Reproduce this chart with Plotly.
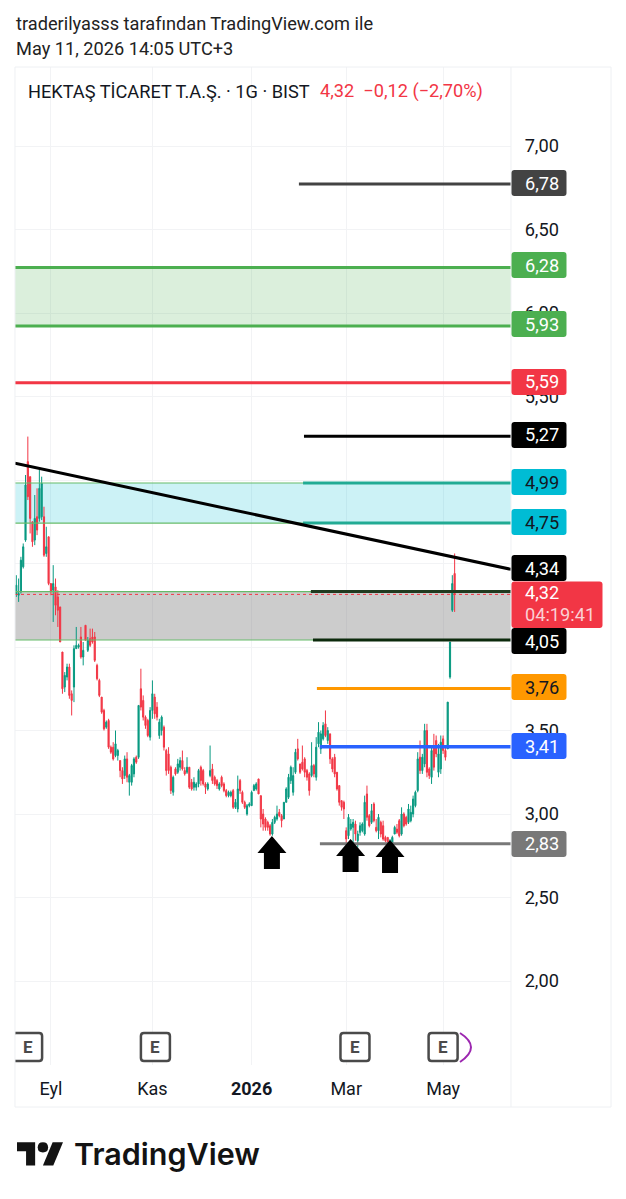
import plotly.graph_objects as go

W, H = 626, 1199
# ---- data ----
opens = [4.32,4.31,4.33,4.48,4.64,5.11,5.02,4.75,4.64,4.78,4.77,4.78,4.78,4.56,4.66,4.38,4.34,4.36,4.30,4.24,
3.97,3.76,3.82,3.88,3.72,3.76,3.99,4.00,4.06,3.94,4.13,3.98,4.05,4.06,4.06,3.89,3.80,3.70,3.62,3.52,
3.56,3.40,3.40,3.35,3.35,3.32,3.26,3.23,3.33,3.19,3.19,3.24,3.34,3.34,3.75,3.68,3.58,3.56,3.46,3.62,
3.70,3.64,3.47,3.50,3.52,3.38,3.36,3.28,3.13,3.27,3.25,3.28,3.32,3.26,3.25,3.28,3.19,3.16,3.16,3.18,
3.28,3.26,3.18,3.15,3.23,3.27,3.22,3.20,3.15,3.22,3.18,3.14,3.11,3.11,3.14,3.04,3.03,3.20,3.13,3.07,
3.00,3.05,3.05,3.14,3.15,3.21,3.11,3.00,2.97,2.95,2.93,2.88,2.95,2.97,3.01,2.99,2.97,3.07,3.10,3.20,
3.13,3.25,3.39,3.30,3.31,3.33,3.26,3.24,3.23,3.29,3.22,3.42,3.39,3.45,3.54,3.44,3.48,3.33,3.34,3.25,
3.17,3.08,3.07,2.90,2.87,2.91,2.92,2.94,2.84,2.89,2.90,2.88,3.12,2.99,2.95,3.06,2.92,2.90,2.95,2.93,
2.86,2.86,2.79,2.82,2.88,2.91,2.96,2.88,3.00,2.98,2.95,2.96,3.00,3.05,3.14,3.34,3.26,3.30,3.50,3.27,
3.22,3.40,3.44,3.25,3.27,3.45,3.38,3.39,3.82,4.22,4.44]
highs = [4.43,4.41,4.54,4.62,5.03,5.26,5.02,4.75,4.91,4.95,5.06,5.02,4.84,4.72,4.66,4.38,4.49,4.41,4.34,4.24,
3.97,3.85,3.90,3.90,3.74,4.01,4.12,4.02,4.12,4.03,4.13,4.06,4.11,4.11,4.09,3.90,3.81,3.70,3.63,3.56,
3.57,3.41,3.43,3.50,3.39,3.32,3.28,3.35,3.37,3.24,3.30,3.34,3.35,3.65,3.87,3.71,3.59,3.57,3.64,3.80,
3.72,3.67,3.57,3.59,3.53,3.39,3.40,3.29,3.23,3.28,3.33,3.34,3.38,3.28,3.34,3.28,3.21,3.22,3.19,3.27,
3.29,3.27,3.19,3.19,3.41,3.30,3.23,3.21,3.19,3.23,3.19,3.15,3.14,3.14,3.15,3.09,3.23,3.21,3.14,3.08,
3.06,3.07,3.14,3.18,3.19,3.21,3.11,3.03,2.98,2.96,2.94,2.97,2.99,3.05,3.03,3.00,3.07,3.16,3.24,3.29,
3.28,3.39,3.45,3.30,3.41,3.34,3.27,3.25,3.43,3.30,3.46,3.55,3.50,3.55,3.62,3.52,3.48,3.34,3.36,3.25,
3.17,3.08,3.08,2.92,3.00,2.97,2.97,2.96,2.90,2.95,2.95,3.11,3.17,3.00,3.06,3.07,2.97,3.00,2.96,2.96,
2.87,2.86,2.85,2.87,2.93,2.94,2.97,3.04,3.01,2.99,3.06,3.05,3.11,3.14,3.37,3.44,3.36,3.54,3.54,3.28,
3.40,3.48,3.47,3.42,3.47,3.47,3.40,3.67,4.03,4.43,4.56]
lows = [4.30,4.27,4.32,4.47,4.63,4.88,4.68,4.60,4.61,4.67,4.75,4.76,4.54,4.54,4.37,4.31,4.15,4.19,4.12,4.03,
3.72,3.73,3.80,3.69,3.59,3.67,3.99,3.99,3.93,3.89,4.04,3.97,4.00,4.02,3.91,3.80,3.70,3.60,3.50,3.51,
3.39,3.36,3.32,3.34,3.32,3.22,3.18,3.21,3.19,3.11,3.17,3.22,3.30,3.33,3.62,3.56,3.51,3.46,3.44,3.57,
3.57,3.56,3.45,3.47,3.38,3.23,3.24,3.12,3.11,3.23,3.24,3.26,3.26,3.23,3.24,3.15,3.14,3.14,3.14,3.16,
3.17,3.17,3.12,3.14,3.22,3.18,3.17,3.15,3.14,3.16,3.13,3.10,3.10,3.10,3.03,3.03,3.01,3.12,3.06,3.03,
2.99,3.04,3.05,3.14,3.14,3.12,2.92,2.90,2.90,2.90,2.87,2.87,2.94,2.96,2.98,2.92,2.97,3.07,3.09,3.18,
3.11,3.24,3.32,3.24,3.26,3.22,3.20,3.11,3.22,3.22,3.20,3.40,3.36,3.44,3.46,3.42,3.30,3.25,3.22,3.14,
3.05,3.02,2.97,2.82,2.85,2.90,2.82,2.84,2.80,2.87,2.89,2.87,2.96,2.92,2.94,2.95,2.89,2.85,2.86,2.84,
2.83,2.75,2.78,2.80,2.88,2.88,2.86,2.87,2.92,2.93,2.94,2.95,2.98,3.04,3.13,3.24,3.24,3.28,3.22,3.21,
3.18,3.26,3.34,3.22,3.24,3.36,3.32,3.39,3.81,4.21,4.21]
closes = [4.37,4.32,4.52,4.60,4.97,4.90,4.77,4.63,4.77,4.70,4.95,4.98,4.55,4.60,4.38,4.33,4.38,4.25,4.22,4.03,
3.75,3.83,3.88,3.71,3.68,3.99,4.01,4.01,3.94,3.98,4.04,4.04,4.01,4.03,3.92,3.81,3.71,3.61,3.51,3.55,
3.40,3.37,3.33,3.42,3.38,3.26,3.21,3.33,3.22,3.23,3.29,3.33,3.31,3.65,3.64,3.58,3.53,3.47,3.62,3.72,
3.60,3.58,3.55,3.58,3.40,3.26,3.26,3.14,3.22,3.24,3.30,3.32,3.27,3.24,3.28,3.16,3.15,3.19,3.18,3.26,
3.20,3.18,3.16,3.18,3.26,3.20,3.18,3.17,3.18,3.17,3.14,3.11,3.13,3.13,3.04,3.07,3.15,3.14,3.07,3.04,
3.05,3.06,3.13,3.17,3.18,3.12,2.97,2.94,2.92,2.92,2.88,2.95,2.98,3.00,2.99,2.96,3.07,3.15,3.22,3.28,
3.23,3.37,3.33,3.25,3.27,3.25,3.22,3.14,3.29,3.24,3.40,3.49,3.48,3.53,3.47,3.50,3.33,3.27,3.24,3.15,
3.07,3.04,3.03,2.85,2.98,2.94,2.95,2.88,2.88,2.93,2.94,3.07,2.98,2.93,3.02,2.96,2.90,2.98,2.88,2.85,
2.84,2.78,2.84,2.86,2.92,2.89,2.87,3.00,2.93,2.94,3.03,3.01,3.09,3.13,3.33,3.26,3.34,3.50,3.25,3.23,
3.38,3.28,3.36,3.36,3.43,3.38,3.34,3.67,4.03,4.38,4.32]

y_ticks = [7.0,6.5,6.0,5.5,5.0,4.5,4.0,3.5,3.0,2.5,2.0]
y_tick_text = ["7,00","6,50","6,00","5,50","","","","3,50","3,00","2,50","2,00"]
x_tick_idx = [16,60,103,144,186]
x_tick_text = ["Eyl","Kas","<b>2026</b>","Mar","May"]
earnings_idx = [5.9,61.3,147.8,186.0]
arrow_idx = [111.8,145.9,163.0]
arrow_price = [2.868,2.85,2.844]

# drawn levels, as they sit against the axis in the picture
level_prices = [6.773,5.262,4.982,4.742,4.332,4.042,3.752,3.402,2.822]
level_start = [123.5,125.7,125.3,125.3,128.7,129.6,131.3,132.6,132.6]
level_colors = ["#434343","#000000","#22ab94","#22ab94","#1f3a1f","#0c2a0c","#ff9800","#2962ff","#787878"]
level_width = [3,3,3,3,3,3,3,3.5,3]
full_prices = [6.272,5.922,5.582]
full_colors = ["#4caf50","#4caf50","#f23645"]
trend_prices = [5.10,4.465]
zones = [(6.272,5.922,"rgba(76,175,80,0.2)"),
         (4.982,4.742,"rgba(0,188,212,0.2)"),
         (4.332,4.042,"rgba(120,120,120,0.38)")]
zone_edges = ["#66bb6a","#66bb6a"]
current_price = 4.315

labels = [("6,78",183,"#434343","#ffffff"),("6,28",265,"#4caf50","#ffffff"),("5,93",324,"#4caf50","#ffffff"),
          ("5,59",382,"#f23645","#ffffff"),("5,27",435,"#000000","#ffffff"),("4,99",482,"#00bcd4","#131722"),
          ("4,75",522,"#00bcd4","#131722"),("4,34",568,"#000000","#ffffff"),("4,05",641,"#000000","#ffffff"),
          ("3,76",687,"#ff9800","#131722"),("3,41",746,"#2962ff","#ffffff"),("2,83",844,"#787878","#ffffff")]

# ---- layout helpers ----
FONT = "Roboto"
INK = "#131722"
GRID = "#f2f3f5"
PL, PR, PT, PB = 15, 511, 67, 1065
bar_step = 2.307
x_left = 1 + (PL - 16.3) / bar_step
x_right = 1 + (PR - 16.3) / bar_step
y_top = 7 - (PT - 146) / 167
y_bot = 7 - (PB - 146) / 167
px = lambda x: x / W
py = lambda y: 1 - y / H

def P(x, y):
    return f"{px(x):.5f},{py(y):.5f}"

def round_rect(x0, y0, x1, y1, r=3):
    return (f"M{P(x0+r,y0)} L{P(x1-r,y0)} Q{P(x1,y0)} {P(x1,y0+r)} L{P(x1,y1-r)} Q{P(x1,y1)} {P(x1-r,y1)} "
            f"L{P(x0+r,y1)} Q{P(x0,y1)} {P(x0,y1-r)} L{P(x0,y0+r)} Q{P(x0,y0)} {P(x0+r,y0)} Z")

fig = go.Figure()
shapes, ann = [], []

def paper_shape(path, fill=None, line=None, lw=0, layer="above"):
    shapes.append(dict(type="path", xref="paper", yref="paper", path=path, fillcolor=fill or "rgba(0,0,0,0)",
                       line=dict(color=line or "rgba(0,0,0,0)", width=lw), layer=layer))

def text(x, y, s, size=18.2, color=INK, anchor="left", **f):
    ann.append(dict(xref="paper", yref="paper", x=px(x), y=py(y), text=s, showarrow=False, xanchor=anchor,
                    yanchor="middle", font=dict(family=f.pop("family", FONT), size=size, color=color, **f),
                    borderpad=0, borderwidth=0))

# zones
for hi, lo, fill in zones:
    shapes.append(dict(type="rect", xref="x", yref="y", x0=x_left, x1=x_right, y0=lo, y1=hi, fillcolor=fill,
                       line=dict(width=0), layer="between"))

fig.add_trace(go.Candlestick(x=list(range(1, len(opens) + 1)), open=opens, high=highs, low=lows, close=closes,
    increasing=dict(line=dict(color="#089981", width=1), fillcolor="#089981"),
    decreasing=dict(line=dict(color="#f23645", width=1), fillcolor="#f23645"),
    whiskerwidth=0, showlegend=False, hoverinfo="skip"))

def hline(xs, ys, color, width, dash="solid"):
    fig.add_trace(go.Scatter(x=xs, y=ys, mode="lines", line=dict(color=color, width=width, dash=dash),
                             showlegend=False, hoverinfo="skip"))

for (hi, lo, fill), edge in zip(zones[1:], zone_edges):
    hline([x_left, x_right], [hi, hi], edge, 1.2)
    hline([x_left, x_right], [lo, lo], edge, 1.2)
for p, c in zip(full_prices, full_colors):
    hline([x_left, x_right], [p, p], c, 3)
for p, s, c, w in zip(level_prices, level_start, level_colors, level_width):
    hline([s, x_right], [p, p], c, w)
hline([x_left, x_right], [current_price, current_price], "#f23645", 1, "dot")
hline([x_left, x_right], trend_prices, "#000000", 3)

# arrows
for i, p in zip(arrow_idx, arrow_price):
    shapes.append(dict(type="path", xref="x", yref="y", xsizemode="pixel", ysizemode="pixel", xanchor=i, yanchor=p,
                       path="M0,0 L14.5,-17 L8,-17 L8,-33 L-8,-33 L-8,-17 L-14.5,-17 Z",
                       fillcolor="#000000", line=dict(width=0), layer="above"))

# earnings boxes
yt, yb = py(1033), py(1061)
r_y = 3 / H
for i in earnings_idx:
    path = (f"M-11.5,{yt:.5f} L11.5,{yt:.5f} Q14.5,{yt:.5f} 14.5,{yt-r_y:.5f} L14.5,{yb+r_y:.5f} "
            f"Q14.5,{yb:.5f} 11.5,{yb:.5f} L-11.5,{yb:.5f} Q-14.5,{yb:.5f} -14.5,{yb+r_y:.5f} "
            f"L-14.5,{yt-r_y:.5f} Q-14.5,{yt:.5f} -11.5,{yt:.5f} Z")
    shapes.append(dict(type="path", xref="x", yref="paper", xsizemode="pixel", xanchor=i, path=path,
                       fillcolor="#ffffff", line=dict(color="#4a4a4a", width=2.5), layer="above"))
    ann.append(dict(xref="x", yref="paper", x=i, y=py(1047), text="<b>E</b>", showarrow=False, xanchor="center",
                    yanchor="middle", font=dict(family=FONT, size=17, color="#4a4a4a")))
paper_shape(f"M{P(460,1033)} Q{P(482,1047)} {P(460,1062)}", line="#9c27b0", lw=2)

# frame lines
for x0, y0, x1, y1 in [(PL,PT,611,PT),(PL,1107,611,1107),(PL,PT,PL,1107),(611,PT,611,1107),(PR,PT,PR,1107)]:
    paper_shape(f"M{P(x0,y0)} L{P(x1,y1)}", line="#eef0f3", lw=1)

# price labels
for s, yc, bg, fg in labels:
    paper_shape(round_rect(511.5, yc - 13, 566.5, yc + 13), fill=bg)
    text(525, yc, s, color=fg)
paper_shape(round_rect(511.5, 581.5, 602.5, 628), fill="#f23645")
text(525, 593, "4,32", color="#ffffff")
text(525, 614, "04:19:41", color="#fbd0d4")

# header
text(16, 24, "traderilyasss tarafından TradingView.com ile", color="#222222")
text(16, 49, "May 11, 2026 14:05 UTC+3", color="#222222")
text(28, 91, "HEKTAŞ TİCARET T.A.Ş. · 1G · BIST", color=INK)
text(320, 91, "4,32  −0,12 (−2,70%)", color="#f23645")

# TradingView logo
lx, ly, k = 17, 1137, 1.296
L = lambda x, y: P(lx + k * x, ly + k * y)
paper_shape(f"M{L(14,22)} L{L(7,22)} L{L(7,11)} L{L(0,11)} L{L(0,4)} L{L(14,4)} Z", fill="#131313")
paper_shape(f"M{L(28,22)} L{L(20,22)} L{L(27.5,4)} L{L(35.5,4)} Z", fill="#131313")
paper_shape(f"M{L(16,8)} Q{L(16,4)} {L(20,4)} Q{L(24,4)} {L(24,8)} Q{L(24,12)} {L(20,12)} Q{L(16,12)} {L(16,8)} Z", fill="#131313")
text(74, 1153, "TradingView", size=30.5, color="#131313", family="Inter", weight=600)

fig.update_layout(
    width=W, height=H, margin=dict(l=0, r=0, t=0, b=0), paper_bgcolor="#ffffff", plot_bgcolor="#ffffff",
    font=dict(family=FONT, size=18.2, color=INK), shapes=shapes, annotations=ann, showlegend=False,
    xaxis=dict(domain=[px(PL), px(PR)], range=[x_left, x_right], rangeslider=dict(visible=False), tickmode="array",
               tickvals=x_tick_idx, ticktext=x_tick_text, showgrid=True, gridcolor=GRID, gridwidth=1, zeroline=False,
               ticks="outside", ticklen=7, tickcolor="rgba(0,0,0,0)", showline=False,
               tickfont=dict(family=FONT, size=18, color=INK)),
    yaxis=dict(domain=[py(PB), py(PT)], range=[y_bot, y_top], side="right", tickmode="array", tickvals=y_ticks,
               ticktext=y_tick_text, showgrid=True, gridcolor=GRID, gridwidth=1, zeroline=False, ticks="outside",
               ticklen=9, tickcolor="rgba(0,0,0,0)", showline=False, tickfont=dict(family=FONT, size=18.2, color=INK)),
)
fig.write_html("out.html", config=dict(displayModeBar=False, responsive=False),
               post_script="document.body.style.margin='0';")
